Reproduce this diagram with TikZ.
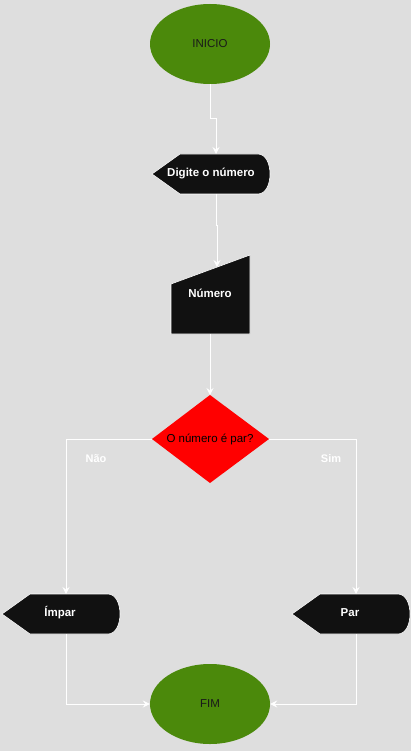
\documentclass[tikz,border=0pt]{standalone}
\usepackage{fontspec}
\setmainfont{Liberation Sans}
\usetikzlibrary{arrows.meta,shapes.geometric}
\definecolor{bg}{HTML}{DEDEDE}
\definecolor{leaf}{HTML}{4B890B}
\definecolor{ink}{HTML}{111111}
\definecolor{txt}{HTML}{1A1A1A}
\tikzset{
  term/.style={ellipse,fill=leaf,draw=none,minimum width=120pt,minimum height=80pt,inner sep=0pt,
    text=txt,font=\fontsize{11.5}{13}\selectfont},
  btext/.style={text=white,font=\bfseries\fontsize{11.5}{13}\selectfont,inner sep=0pt},
  dtext/.style={text=black,font=\fontsize{11.5}{13}\selectfont,inner sep=0pt},
  blk/.style={fill=ink,draw=white,line width=0.6pt},
  conn/.style={draw=white,line width=0.9pt,-{Stealth[length=7pt,width=7pt,inset=2.5pt]}},
  lbl/.style={text=white,font=\bfseries\fontsize{11}{13}\selectfont,inner sep=0pt},
}
\begin{document}
\begin{tikzpicture}[x=1pt,y=-1pt]
\useasboundingbox[fill=bg] (0,0) rectangle (411,751);
% INICIO
\node[term] (ini) at (210,44) {INICIO};
% Display: Digite o numero
\draw[blk] (152,174) -- (180,154) -- (258,154) .. controls (274,154) and (274,194) .. (258,194) -- (180,194) -- cycle;
\node[btext] (dig) at (211,174) {Digite o número};
\coordinate (digtop) at (216,154);
\coordinate (digbot) at (216,194);
% Manual input: Numero
\draw[blk] (171,284) -- (250,255) -- (250,334) -- (171,334) -- cycle;
\node[btext] (num) at (210,293) {Número};
\coordinate (numtop) at (217,267);
\coordinate (numbot) at (210,334);
% Decision
\draw[fill=red,draw=none] (210,395) -- (269,439) -- (210,483) -- (152,439) -- cycle;
\node[dtext] (dec) at (210,439) {O número é par?};
\coordinate (dectop) at (210,395);
\coordinate (decl) at (152,439);
\coordinate (decr) at (269,439);
% Impar
\draw[blk] (2,614) -- (30,594) -- (108,594) .. controls (124,594) and (124,634) .. (108,634) -- (30,634) -- cycle;
\node[btext] (imp) at (60,613) {Ímpar};
\coordinate (imptop) at (66,594);
\coordinate (impbot) at (66,634);
% Par
\draw[blk] (292,614) -- (320,594) -- (398,594) .. controls (414,594) and (414,634) .. (398,634) -- (320,634) -- cycle;
\node[btext] (par) at (350,613) {Par};
\coordinate (partop) at (356,594);
\coordinate (parbot) at (356,634);
% FIM
\node[term] (fim) at (210,704) {FIM};
% connectors
\draw[conn] (ini.south) -- (210,118) -- (216,118) -- (digtop);
\draw[conn] (digbot) -- (216,225) -- (217,225) -- (numtop);
\draw[conn] (numbot) -- (dectop);
\draw[conn] (decl) -- (66,439) -- (imptop);
\draw[conn] (decr) -- (356,439) -- (partop);
\draw[conn] (impbot) -- (66,704) -- (fim.west);
\draw[conn] (parbot) -- (356,704) -- (fim.east);
% labels
\node[lbl] (nao) at (96,459) {Não};
\node[lbl] (sim) at (331,459) {Sim};
\end{tikzpicture}
\end{document}
